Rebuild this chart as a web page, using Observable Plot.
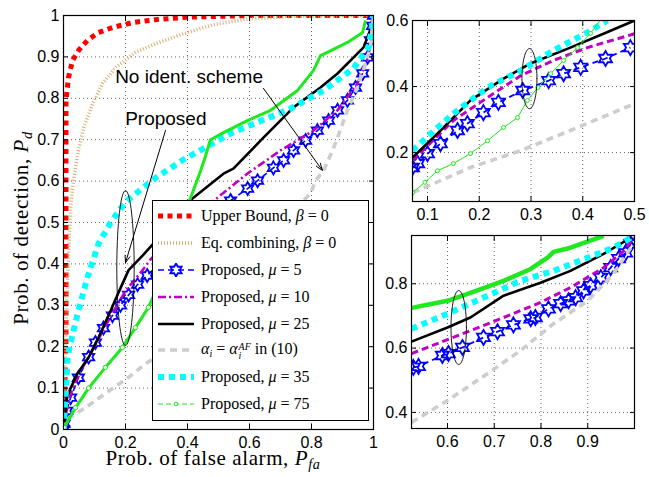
<!DOCTYPE html>
<html>
<head>
<meta charset="utf-8">
<script src="https://cdn.jsdelivr.net/npm/d3@7"></script>
<script src="https://cdn.jsdelivr.net/npm/@observablehq/plot@0.6"></script>
<style>
  body { margin: 0; background: #fff; }
  #fig { position: relative; width: 649px; height: 477px; overflow: hidden; background: #fff; }
  #fig svg { position: absolute; }
  .serif { font-family: "Liberation Serif", "DejaVu Serif", serif; color: #000; }
  .lab { position: absolute; white-space: nowrap; font-size: 21px; line-height: 0.8; letter-spacing: 0.6px; }
  .lab sub { font-size: 0.68em; vertical-align: -0.3em; line-height: 0; }
  #legend { position: absolute; left: 152px; top: 200px; width: 215px; height: 217px;
            border: 1px solid #000; background: #fff; box-sizing: content-box; padding-top: 2px; }
  .row { height: 26.8px; display: flex; align-items: center; font-size: 16px; }
  .row svg { position: static !important; margin-left: 5px; margin-right: 7px; flex: none; }
  .row sub { font-size: 0.62em; vertical-align: -0.3em; line-height: 0; }
  .ss { display: inline-flex; flex-direction: column; vertical-align: 0.38em; line-height: 0.9; font-size: 0.62em; margin-left: 1px; }
</style>
</head>
<body>
<div id="fig"></div>
<script>
// ---------- ROC data: main panel (P_fa, P_d) ----------
const mainUpper = [[0,0],[0.008,0.2],[0.008,0.5],[0.008,0.795],[0.016,0.85],[0.029,0.891],[0.048,0.915],[0.077,0.94],[0.113,0.959],[0.158,0.971],[0.223,0.983],[0.297,0.99],[0.4,0.996],[0.6,1],[1,1]];
const mainEqComb = [[0,0],[0.01,0.3],[0.018,0.45],[0.023,0.536],[0.032,0.601],[0.048,0.674],[0.065,0.729],[0.094,0.787],[0.126,0.836],[0.168,0.874],[0.232,0.911],[0.297,0.932],[0.384,0.955],[0.484,0.978],[0.6,0.992],[0.75,0.998],[1,1]];
const mainMu5 = [[0,0],[0.002,0.014],[0.01,0.045],[0.023,0.077],[0.048,0.125],[0.081,0.175],[0.103,0.21],[0.129,0.245],[0.158,0.275],[0.184,0.3],[0.21,0.325],[0.239,0.35],[0.27,0.372],[0.35,0.43],[0.42,0.48],[0.48,0.52],[0.539,0.553],[0.594,0.582],[0.626,0.601],[0.677,0.632],[0.71,0.65],[0.742,0.674],[0.781,0.698],[0.819,0.722],[0.855,0.746],[0.884,0.771],[0.916,0.795],[0.942,0.826],[0.965,0.86],[0.981,0.899],[0.99,0.94],[0.997,0.975],[1,1]];
const mainMu10 = [[0,0],[0.01,0.045],[0.025,0.09],[0.05,0.135],[0.1,0.2],[0.15,0.27],[0.2,0.335],[0.25,0.38],[0.28,0.41],[0.35,0.465],[0.42,0.515],[0.497,0.56],[0.593,0.618],[0.7,0.674],[0.806,0.722],[0.884,0.771],[0.948,0.836],[0.98,0.891],[0.997,0.957],[1,1]];
const mainMu25 = [[0,0],[0.006,0.04],[0.012,0.08],[0.023,0.1],[0.045,0.135],[0.081,0.174],[0.113,0.222],[0.152,0.287],[0.177,0.33],[0.21,0.385],[0.255,0.42],[0.29,0.449],[0.35,0.5],[0.416,0.558],[0.516,0.618],[0.548,0.63],[0.645,0.705],[0.742,0.778],[0.829,0.826],[0.884,0.86],[0.948,0.908],[0.968,0.923],[0.997,0.98],[1,1]];
const mainAlphaAF = [[0,0],[0.006,0.022],[0.071,0.053],[0.135,0.087],[0.21,0.126],[0.265,0.159],[0.297,0.174],[0.4,0.25],[0.5,0.33],[0.6,0.42],[0.7,0.5],[0.797,0.57],[0.813,0.601],[0.839,0.626],[0.868,0.674],[0.884,0.705],[0.916,0.771],[0.948,0.826],[0.974,0.884],[0.99,0.923],[1,1]];
const mainMu35 = [[0,0],[0.005,0.06],[0.01,0.12],[0.013,0.174],[0.023,0.21],[0.048,0.287],[0.077,0.367],[0.113,0.449],[0.152,0.5],[0.2,0.55],[0.297,0.608],[0.387,0.652],[0.539,0.715],[0.732,0.775],[0.839,0.819],[0.935,0.872],[0.984,0.923],[0.997,0.98],[1,1]];
const mainMu75 = [[0,0],[0.002,0.005],[0.039,0.053],[0.081,0.1],[0.135,0.15],[0.19,0.198],[0.232,0.246],[0.274,0.295],[0.303,0.343],[0.35,0.44],[0.41,0.56],[0.44,0.62],[0.458,0.66],[0.474,0.7],[0.516,0.717],[0.593,0.746],[0.668,0.771],[0.755,0.819],[0.806,0.867],[0.829,0.903],[0.851,0.911],[0.916,0.935],[0.965,0.959],[0.974,0.988]];

// ---------- zoomed panel, low P_fa ----------
const topMu25 = [[0.071,0.185],[0.119,0.257],[0.183,0.358],[0.247,0.424],[0.299,0.47],[0.376,0.518],[0.44,0.56],[0.5,0.6]];
const topMu35 = [[0.071,0.206],[0.106,0.257],[0.15,0.318],[0.216,0.397],[0.28,0.448],[0.343,0.509],[0.409,0.564],[0.448,0.6]];
const topMu10 = [[0.071,0.176],[0.15,0.297],[0.216,0.367],[0.28,0.433],[0.343,0.479],[0.409,0.518],[0.5,0.56]];
const topMu5 = [[0.071,0.155],[0.081,0.167],[0.1,0.197],[0.125,0.227],[0.158,0.267],[0.177,0.288],[0.208,0.321],[0.237,0.352],[0.284,0.388],[0.334,0.418],[0.363,0.439],[0.396,0.458],[0.444,0.485],[0.492,0.518]];
const topAlphaAF = [[0.071,0.08],[0.081,0.085],[0.183,0.155],[0.28,0.206],[0.376,0.267],[0.5,0.348]];
const topMu75 = [[0.071,0.079],[0.095,0.11],[0.119,0.145],[0.15,0.167],[0.183,0.197],[0.216,0.236],[0.247,0.276],[0.274,0.306],[0.293,0.358],[0.313,0.397],[0.338,0.439],[0.363,0.479],[0.39,0.518],[0.415,0.561],[0.438,0.61]];

// ---------- zoomed panel, high P_fa ----------
const botMu75 = [[0.523,0.725],[0.6,0.747],[0.649,0.772],[0.72,0.809],[0.778,0.846],[0.814,0.881],[0.827,0.899],[0.863,0.912],[0.934,0.949]];
const botMu35 = [[0.523,0.66],[0.6,0.707],[0.686,0.763],[0.756,0.809],[0.827,0.84],[0.9,0.881],[0.955,0.912],[0.992,0.943]];
const botMu25 = [[0.523,0.62],[0.6,0.664],[0.649,0.695],[0.72,0.763],[0.799,0.803],[0.863,0.84],[0.934,0.893],[0.992,0.943]];
const botMu10 = [[0.523,0.583],[0.649,0.654],[0.72,0.695],[0.793,0.738],[0.863,0.788],[0.934,0.85],[0.977,0.902],[0.998,0.943]];
const botMu5 = [[0.527,0.54],[0.538,0.543],[0.589,0.577],[0.602,0.583],[0.632,0.602],[0.677,0.633],[0.707,0.651],[0.741,0.672],[0.778,0.691],[0.788,0.695],[0.816,0.722],[0.842,0.738],[0.859,0.747],[0.874,0.757],[0.891,0.778],[0.906,0.794],[0.928,0.819],[0.949,0.85],[0.966,0.878],[0.981,0.896],[0.992,0.924],[0.998,0.943]];
const botAlphaAF = [[0.523,0.369],[0.6,0.437],[0.686,0.521],[0.756,0.592],[0.827,0.676],[0.9,0.747],[0.955,0.831],[0.992,0.912]];

// ---------- ticks ----------
const mainXTicks = [0, 0.2, 0.4, 0.6, 0.8, 1];
const mainYTicks = [0, 0.1, 0.2, 0.3, 0.4, 0.5, 0.6, 0.7, 0.8, 0.9, 1];
const topXTicks = [0.1, 0.2, 0.3, 0.4, 0.5];
const topYTicks = [0.2, 0.4, 0.6];
const botXTicks = [0.6, 0.7, 0.8, 0.9];
const botYTicks = [0.4, 0.6, 0.8];

// ---------- legend labels ----------
const legendLabels = [
  'Upper Bound, <i>β</i> = 0',
  'Eq. combining, <i>β</i> = 0',
  'Proposed, <i>μ</i> = 5',
  'Proposed, <i>μ</i> = 10',
  'Proposed, <i>μ</i> = 25',
  '<i>α</i><sub><i>i</i></sub> = <i>α</i><span class="ss"><span><i>AF</i></span><span><i>i</i></span></span> in (10)',
  'Proposed, <i>μ</i> = 35',
  'Proposed, <i>μ</i> = 75'
];

// annotations (data coordinates of the main panel)
const notes = [
  {text: "No ident. scheme", x: 0.405, y: 0.852, x1: 0.645, y1: 0.824, x2: 0.835, y2: 0.626},
  {text: "Proposed", x: 0.33, y: 0.75, x1: 0.329, y1: 0.722, x2: 0.2, y2: 0.403}
];
const mainEllipse = {cx: 0.2, cy: 0.39, rx: 0.028, ry: 0.187};
const topEllipse = {cx: 0.297, cy: 0.424, rx: 0.0145, ry: 0.091};
const botEllipse = {cx: 0.624, cy: 0.664, rx: 0.0165, ry: 0.115};

// ---------- styles ----------
const hexagram = {
  draw(context, size) {
    const R = Math.sqrt(size / Math.PI);
    const r = R / Math.sqrt(3);
    for (let k = 0; k < 12; ++k) {
      const a = -Math.PI / 2 + k * Math.PI / 6;
      const rad = k % 2 === 0 ? R : r;
      const px = rad * Math.cos(a), py = rad * Math.sin(a);
      if (k === 0) context.moveTo(px, py); else context.lineTo(px, py);
    }
    context.closePath();
  }
};

const S = {
  upper: {stroke: "#ff0000", width: 5, dash: "5,4.5"},
  eq:    {stroke: "#d3ae72", width: 3.5, dash: "1,2"},
  mu5:   {stroke: "#0000ff", width: 1.6, dash: "6,4", marker: "hex"},
  mu10:  {stroke: "#c000c0", width: 2.6, dash: "8,3,2,3"},
  mu25:  {stroke: "#000000", width: 2.6, dash: null},
  alpha: {stroke: "#cdcdcd", width: 3.6, dash: "7,5"},
  mu35:  {stroke: "#00ffff", width: 6, dash: "6,5"},
  mu75:  {stroke: "#1ee81e", width: 3.2, dash: null, marker: "circle"}
};
const legendStyles = [S.upper, S.eq, S.mu5, S.mu10, S.mu25, S.alpha, S.mu35, {...S.mu75, width: 1.2, dash: "5,3"}];

const X = d => d[0], Y = d => d[1];

function series(pts, st, extra = {}) {
  const s = {...st, ...extra};
  const out = [Plot.line(pts, {x: X, y: Y, stroke: s.stroke, strokeWidth: s.width,
    strokeDasharray: s.dash, strokeLinecap: "butt", strokeLinejoin: "round", clip: true})];
  const mpts = s.markerMaxY != null ? pts.filter(d => d[1] <= s.markerMaxY) : pts;
  if (s.marker === "hex") {
    out.push(Plot.dot(mpts, {x: X, y: Y, symbol: hexagram, r: s.r || 6.5, stroke: s.stroke,
      strokeWidth: 1.8, fill: "none", clip: true}));
  } else if (s.marker === "circle") {
    out.push(Plot.dot(mpts, {x: X, y: Y, symbol: "circle", r: s.r || 2.2, stroke: s.stroke,
      strokeWidth: 1, fill: "white", clip: true}));
  }
  return out;
}

function ellipse(e) {
  const pts = [];
  for (let k = 0; k <= 72; ++k) {
    const t = 2 * Math.PI * k / 72;
    pts.push([e.cx + e.rx * Math.cos(t), e.cy + e.ry * Math.sin(t)]);
  }
  return Plot.line(pts, {x: X, y: Y, stroke: "#000", strokeWidth: 0.9});
}

const fmt = d3.format("~g");
function frameMarks(xt, yt) {
  return [
    Plot.gridX(xt, {stroke: "#666", strokeOpacity: 1, strokeDasharray: "1,3", strokeWidth: 1}),
    Plot.gridY(yt, {stroke: "#666", strokeOpacity: 1, strokeDasharray: "1,3", strokeWidth: 1})
  ];
}
function axisMarks(xt, yt) {
  return [
    Plot.frame({stroke: "#000", strokeWidth: 1.2}),
    Plot.axisX(xt, {anchor: "bottom", tickSize: -5, tickPadding: 12, tickFormat: fmt, label: null, fontSize: 16}),
    Plot.axisX(xt, {anchor: "top", tickSize: -5, tickFormat: () => "", label: null}),
    Plot.axisY(yt, {anchor: "left", tickSize: -5, tickPadding: 9, tickFormat: fmt, label: null, fontSize: 16}),
    Plot.axisY(yt, {anchor: "right", tickSize: -5, tickFormat: () => "", label: null})
  ];
}
const svgStyle = "background: transparent; overflow: visible; font-family: 'Liberation Sans', Arial, sans-serif; font-size: 16px; color: #000;";

const fig = document.getElementById("fig");

// ---------- main panel ----------
const main = Plot.plot({
  width: 380, height: 477,
  marginLeft: 63, marginRight: 7, marginTop: 15, marginBottom: 48,
  x: {domain: [0, 1]}, y: {domain: [0, 1]},
  style: svgStyle,
  marks: [
    ...frameMarks(mainXTicks, mainYTicks),
    ...series(mainUpper, S.upper),
    ...series(mainEqComb, S.eq),
    ...series(mainMu5, S.mu5),
    ...series(mainMu10, S.mu10),
    ...series(mainMu25, S.mu25),
    ...series(mainAlphaAF, S.alpha),
    ...series(mainMu35, S.mu35),
    ...series(mainMu75, S.mu75, {width: 3, markerMaxY: 0.36}),
    ellipse(mainEllipse),
    Plot.arrow(notes, {x1: "x1", y1: "y1", x2: "x2", y2: "y2", stroke: "#000", strokeWidth: 1, headLength: 11, headAngle: 40}),
    Plot.text(notes, {x: "x", y: "y", text: "text", fontSize: 19, fill: "#000", stroke: "white", strokeWidth: 4, paintOrder: "stroke"}),
    ...axisMarks(mainXTicks, mainYTicks)
  ]
});
main.style.left = "0px"; main.style.top = "0px";
fig.appendChild(main);

// ---------- zoom: low false-alarm region ----------
const topPanel = Plot.plot({
  width: 279, height: 230,
  marginLeft: 42, marginRight: 15, marginTop: 20, marginBottom: 29,
  x: {domain: [0.071, 0.5]}, y: {domain: [0.052, 0.6]},
  style: svgStyle,
  marks: [
    ...frameMarks(topXTicks, topYTicks),
    ...series(topMu5, S.mu5, {r: 7.5, width: 1.8}),
    ...series(topMu10, S.mu10, {dash: "7,4", width: 3}),
    ...series(topMu25, S.mu25),
    ...series(topAlphaAF, S.alpha),
    ...series(topMu35, S.mu35),
    ...series(topMu75, S.mu75, {width: 1, r: 2}),
    ellipse(topEllipse),
    ...axisMarks(topXTicks, topYTicks)
  ]
});
topPanel.style.left = "370px"; topPanel.style.top = "0px";
fig.appendChild(topPanel);

// ---------- zoom: high false-alarm region ----------
const botPanel = Plot.plot({
  width: 279, height: 247,
  marginLeft: 41, marginRight: 15, marginTop: 5, marginBottom: 49,
  x: {domain: [0.523, 1]}, y: {domain: [0.35, 0.95]},
  style: svgStyle,
  marks: [
    ...frameMarks(botXTicks, botYTicks),
    ...series(botMu5, S.mu5, {r: 7.5, width: 1.8}),
    ...series(botMu10, S.mu10, {dash: "7,4", width: 3}),
    ...series(botMu25, S.mu25),
    ...series(botAlphaAF, S.alpha),
    ...series(botMu35, S.mu35),
    ...series(botMu75, {stroke: "#1ee81e", width: 4.5, dash: null}),
    ellipse(botEllipse),
    ...axisMarks(botXTicks, botYTicks)
  ]
});
botPanel.style.left = "370px"; botPanel.style.top = "230px";
fig.appendChild(botPanel);

// ---------- legend ----------
function sampleSvg(st) {
  const w = 36, h = 14, y = h / 2;
  let s = `<svg width="${w}" height="${h}" viewBox="0 0 ${w} ${h}">`;
  s += `<line x1="0" y1="${y}" x2="${w}" y2="${y}" stroke="${st.stroke}" stroke-width="${st.width}"` +
       (st.dash ? ` stroke-dasharray="${st.dash}"` : "") + ` stroke-linecap="butt"/>`;
  if (st.marker === "hex") {
    const R = 6.5, r = R / Math.sqrt(3);
    const p = d3.range(12).map(k => {
      const a = -Math.PI / 2 + k * Math.PI / 6, rad = k % 2 ? r : R;
      return `${(w / 2 + rad * Math.cos(a)).toFixed(2)},${(y + rad * Math.sin(a)).toFixed(2)}`;
    }).join(" ");
    s += `<polygon points="${p}" fill="none" stroke="${st.stroke}" stroke-width="1.8"/>`;
  } else if (st.marker === "circle") {
    s += `<circle cx="${w / 2}" cy="${y}" r="1.9" fill="white" stroke="${st.stroke}"/>`;
  }
  return s + "</svg>";
}
const legend = document.createElement("div");
legend.id = "legend";
legend.className = "serif";
legend.innerHTML = legendLabels.map((lab, i) =>
  `<div class="row">${sampleSvg(legendStyles[i])}<span>${lab}</span></div>`).join("");
fig.appendChild(legend);

// ---------- axis titles ----------
const xlab = document.createElement("div");
xlab.className = "lab serif";
xlab.style.left = "213px"; xlab.style.top = "458px";
xlab.style.transform = "translate(-50%, -50%)";
xlab.innerHTML = 'Prob. of false alarm, <i>P<sub>fa</sub></i>';
fig.appendChild(xlab);

const ylab = document.createElement("div");
ylab.className = "lab serif";
ylab.style.left = "21px"; ylab.style.top = "228px";
ylab.style.transform = "translate(-50%, -50%) rotate(-90deg)";
ylab.innerHTML = 'Prob. of detection, <i>P<sub>d</sub></i>';
fig.appendChild(ylab);
</script>
</body>
</html>
